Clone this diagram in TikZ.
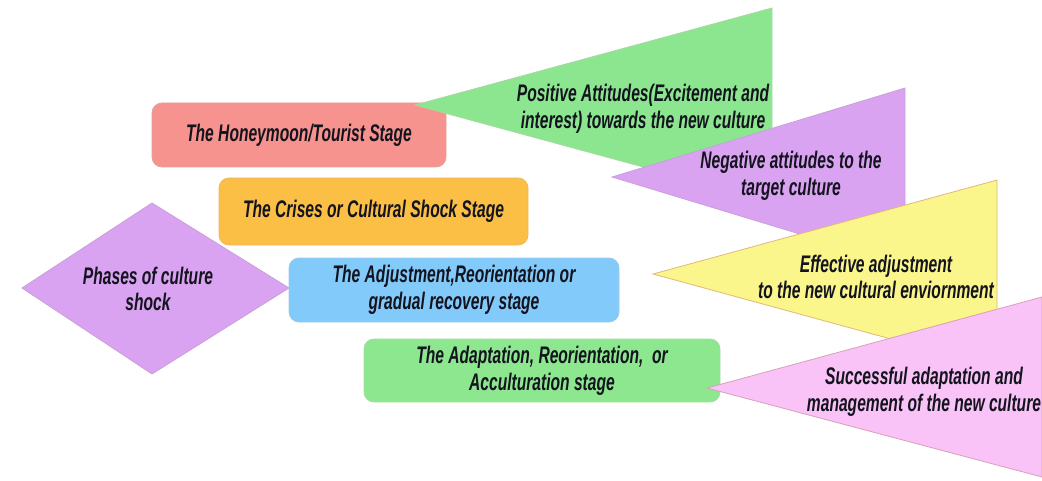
\documentclass[tikz,border=0pt]{standalone}
\usepackage{fontspec}
\setmainfont{Liberation Sans}[FakeStretch=0.65]
\definecolor{txt}{HTML}{14141F}
\definecolor{hmfill}{HTML}{F7938E}
\definecolor{hmline}{HTML}{E8A09A}
\definecolor{crfill}{HTML}{FBBF45}
\definecolor{crline}{HTML}{EEB860}
\definecolor{adfill}{HTML}{82CAFA}
\definecolor{adline}{HTML}{9CCBEA}
\definecolor{acfill}{HTML}{8CE78F}
\definecolor{acline}{HTML}{A6DCA4}
\definecolor{lilac}{HTML}{D9A3F2}
\definecolor{lilacline}{HTML}{C9A0D8}
\definecolor{grfill}{HTML}{8CE68F}
\definecolor{grline}{HTML}{A8D8A0}
\definecolor{yefill}{HTML}{FAF68C}
\definecolor{yeline}{HTML}{E0B878}
\definecolor{pkfill}{HTML}{F9C3F7}
\definecolor{pkline}{HTML}{D8A0B8}
\tikzset{
  lbl/.style={text=txt, font=\fontsize{18}{20}\selectfont\bfseries\itshape, align=center, inner sep=0pt},
  stagebox/.style={lbl, rounded corners=7.5pt, line width=0.6pt},
  wedge/.style={line width=0.6pt, line join=miter},
}
\begin{document}
\begin{tikzpicture}[x=0.75pt, y=-0.75pt]
  \useasboundingbox (0,0) rectangle (1042,481);

  % central diamond
  \coordinate (dl) at (22,288);
  \coordinate (dt) at (152,203);
  \coordinate (dr) at (289,288);
  \coordinate (db) at (152,374);
  \fill[lilac, draw=lilacline, line width=0.6pt] (dl) -- (dt) -- (dr) -- (db) -- cycle;
  \node[lbl] (phases) at (148,289) {Phases of culture\\shock};

  % the four stages
  \node[stagebox, fill=hmfill, draw=hmline, minimum width=220.5pt, minimum height=48pt]
    (hm) at (299,135) {The Honeymoon/Tourist Stage};
  \node[stagebox, fill=crfill, draw=crline, minimum width=231.75pt, minimum height=50.25pt]
    (cr) at (373.5,211.5) {The Crises or Cultural Shock Stage};
  \node[stagebox, fill=adfill, draw=adline, minimum width=247.5pt, minimum height=48pt]
    (ad) at (454,290) {The Adjustment,Reorientation or\\gradual recovery stage};
  \node[stagebox, fill=acfill, draw=acline, minimum width=267pt, minimum height=47.25pt]
    (ac) at (542,370.5) {The Adaptation, Reorientation,\ \ or\\Acculturation stage};

  % wedges pointing back at the stages
  \coordinate (ga) at (415,105);
  \coordinate (gt) at (772,8);
  \coordinate (gb) at (772,202);
  \fill[grfill, draw=grline, wedge] (ga) -- (gt) -- (gb) -- cycle;

  \coordinate (pa) at (612,177);
  \coordinate (pt) at (905,88);
  \coordinate (pb) at (905,266);
  \fill[lilac, draw=lilacline, wedge] (pa) -- (pt) -- (pb) -- cycle;

  \coordinate (ya) at (653,274);
  \coordinate (yt) at (997,180);
  \coordinate (yb) at (997,368);
  \fill[yefill, draw=yeline, wedge] (ya) -- (yt) -- (yb) -- cycle;

  \coordinate (ka) at (707,388);
  \coordinate (kt) at (1042,297);
  \coordinate (kb) at (1042,477);
  \fill[pkfill, draw=pkline, wedge] (ka) -- (kt) -- (kb) -- cycle;

  % wedge captions
  \node[lbl] (pos) at (643,109) {Positive Attitudes(Excitement and\\interest) towards the new culture};
  \node[lbl] (neg) at (791,176) {Negative attitudes to the\\target culture};
  \node[lbl] (eff) at (876,277) {Effective adjustment\\to the new cultural enviornment};
  \node[lbl] (suc) at (924,392) {Successful adaptation and\\management of the new culture};
\end{tikzpicture}
\end{document}
